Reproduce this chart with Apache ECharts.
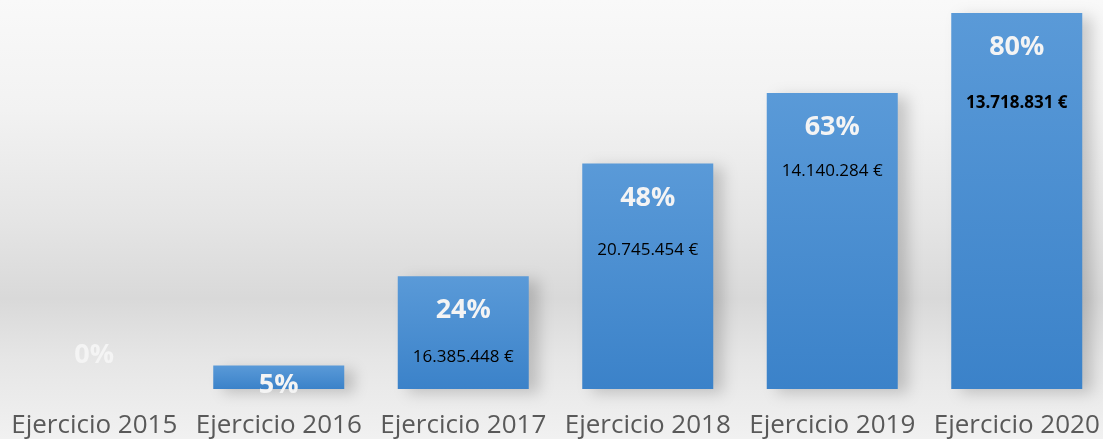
<!DOCTYPE html>
<html>
<head>
<meta charset="utf-8">
<script src="https://cdn.jsdelivr.net/npm/echarts@6/dist/echarts.min.js"></script>
<style>
  html, body { margin: 0; padding: 0; overflow: hidden; }
  #chart { width: 1110px; height: 439px; }
</style>
</head>
<body>
<div id="chart"></div>
<script>
const categories = ['Ejercicio 2015', 'Ejercicio 2016', 'Ejercicio 2017', 'Ejercicio 2018', 'Ejercicio 2019', 'Ejercicio 2020'];
const percents = [0, 5, 24, 48, 63, 80];
const euroLabels = ['', '', '16.385.448 €', '20.745.454 €', '14.140.284 €', '13.718.831 €'];

// label placement tweaks (px below bar top)
const euroDistance = [0, 0, 72, 78, 70, 82];

const chart = echarts.init(document.getElementById('chart'), null, { renderer: 'canvas' });

const barColor = new echarts.graphic.LinearGradient(0, 0, 0, 1, [
  { offset: 0, color: '#5a9ad8' },
  { offset: 1, color: '#3b82c9' }
]);

const pctData = percents.map((v, i) => {
  const item = { value: v };
  if (v === 0) {
    item.label = { position: 'top', distance: 20 };
  } else if (v < 10) {
    item.label = { distance: 6 };
  }
  return item;
});

const euroData = percents.map((v, i) => ({
  value: v,
  label: {
    show: euroLabels[i] !== '',
    distance: euroDistance[i],
    fontWeight: i === 5 ? 'bold' : 'normal'
  }
}));

const option = {
  animation: false,
  backgroundColor: new echarts.graphic.LinearGradient(0, 0, 0, 1, [
    { offset: 0, color: '#f9f9f9' },
    { offset: 0.25, color: '#f2f2f2' },
    { offset: 0.5, color: '#e5e5e5' },
    { offset: 0.68, color: '#d9d9d9' },
    { offset: 0.82, color: '#e6e6e6' },
    { offset: 1, color: '#f1f1f1' }
  ]),
  grid: {
    left: 2,
    width: 1107,
    top: 13,
    bottom: 50,
    containLabel: false
  },
  xAxis: {
    type: 'category',
    data: categories,
    axisLine: { show: false },
    axisTick: { show: false },
    axisLabel: {
      interval: 0,
      color: '#595959',
      fontFamily: 'Open Sans',
      fontSize: 26,
      margin: 24
    }
  },
  yAxis: {
    type: 'value',
    min: 0,
    max: 80,
    show: false,
    splitLine: { show: false }
  },
  series: [
    {
      name: 'Porcentaje',
      type: 'bar',
      barWidth: 131,
      data: pctData,
      itemStyle: {
        color: barColor,
        shadowColor: 'rgba(0,0,0,0.18)',
        shadowBlur: 14,
        shadowOffsetX: 10,
        shadowOffsetY: 4
      },
      label: {
        show: true,
        position: 'insideTop',
        distance: 21,
        formatter: '{c}%',
        color: '#f4f4f4',
        fontFamily: 'Open Sans',
        fontWeight: 'bold',
        fontSize: 27
      },
      z: 2
    },
    {
      name: 'Importe',
      type: 'bar',
      barWidth: 131,
      barGap: '-100%',
      data: euroData,
      itemStyle: { color: 'rgba(0,0,0,0)' },
      label: {
        show: true,
        position: 'insideTop',
        formatter: (p) => euroLabels[p.dataIndex],
        color: '#000000',
        fontFamily: 'Open Sans',
        fontSize: 17
      },
      silent: true,
      z: 3
    }
  ]
};

chart.setOption(option);
</script>
</body>
</html>
